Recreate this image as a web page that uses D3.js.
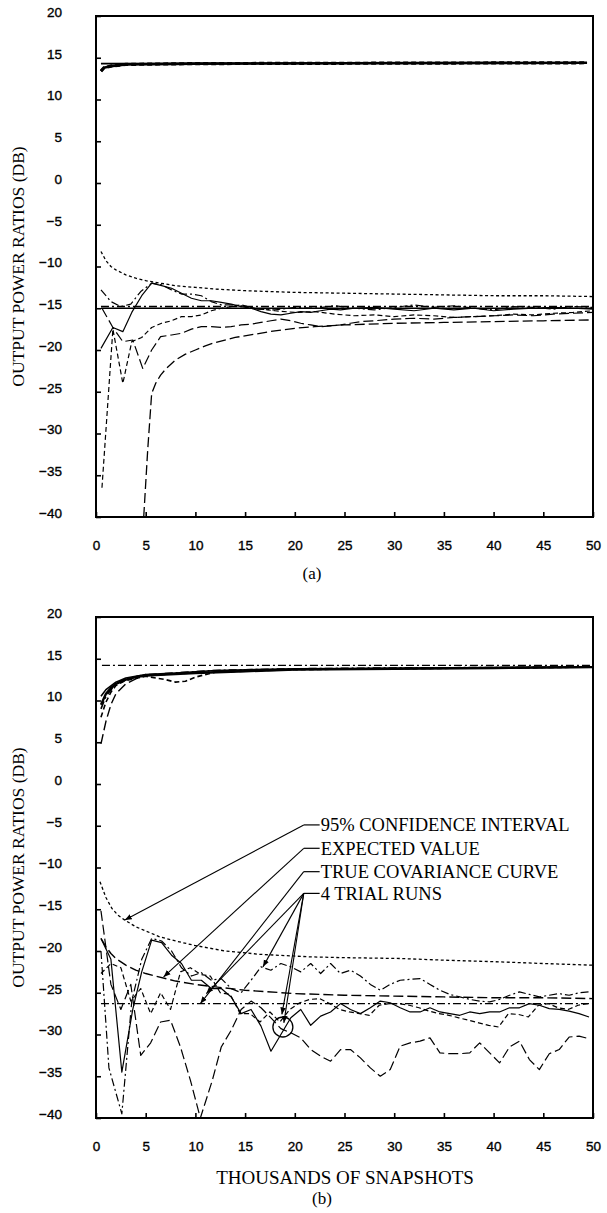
<!DOCTYPE html>
<html>
<head>
<meta charset="utf-8">
<script src="https://cdn.jsdelivr.net/npm/d3@7"></script>
<style>
  body { margin: 0; background: #fff; }
  svg { display: block; }
</style>
</head>
<body>
<svg id="chart" width="607" height="1213"></svg>
<script>
// ---------------------------------------------------------------------------------------
// Data.  x = thousands of snapshots, y = output power ratio (dB)

const xTicks = [0, 5, 10, 15, 20, 25, 30, 35, 40, 45, 50];
const yTicks = [-40, -35, -30, -25, -20, -15, -10, -5, 0, 5, 10, 15, 20];

// Panel (a)
const aTopTrue   = [[0.5, 14.3], [49.4, 14.4]];
const aTopRuns   = [[0.5, 13.4], [0.8, 13.8], [1.5, 14.0], [3, 14.2], [10, 14.3], [49.4, 14.4]];
const aUpperCI   = [[0.5, -8.2], [1, -9.3], [1.5, -10.0], [2, -10.4], [3, -11.0], [4, -11.4], [5, -11.7],
                    [6, -11.9], [8, -12.3], [10, -12.5], [12, -12.7], [15, -12.9], [20, -13.1],
                    [25, -13.2], [30, -13.3], [35, -13.4], [40, -13.5], [45, -13.5], [50, -13.6]];
const aLowerCI   = [[4.8, -40], [5.2, -32], [5.6, -25.2], [6, -24], [6.5, -23], [7, -22.3], [8, -21.2],
                    [9, -20.5], [10, -20], [11, -19.5], [12, -19.1], [14, -18.5], [16, -18.1],
                    [18, -17.7], [20, -17.4], [22, -17.2], [25, -17], [30, -16.8], [35, -16.7],
                    [40, -16.6], [45, -16.5], [50, -16.4]];
const aTrue      = [[0.5, -14.8], [50, -14.8]];
const aExpected  = [[0.5, -15.0], [50, -15.0]];
const aRun1 = [[0.5, -19.8], [1.7, -17.3], [2.7, -17.8], [3.6, -15.5], [4.6, -13.5], [5.6, -12], [6.6, -12.3],
               [7.6, -12.6], [8.6, -13.2], [9.6, -13.8], [10.6, -14.1], [11.6, -14.1], [12.6, -14.3],
               [13.6, -14.5], [14.6, -14.8], [15.6, -15], [16.6, -15.4], [17.6, -15.7], [18.6, -15.8],
               [19.6, -15.6], [20.6, -15.4], [21.6, -15.5], [22.6, -15.3], [23.6, -15.1], [24.6, -15.2],
               [26, -15], [28, -14.9], [30, -15.1], [32, -15.3], [34, -15], [36, -15.2], [38, -15],
               [40, -15.3], [42, -15.1], [44, -15], [46, -14.9], [48, -15], [50, -15.1]];
const aRun2 = [[0.5, -12.8], [1.5, -14.2], [2.5, -14.8], [3.5, -14.5], [4.5, -13], [5.6, -12], [6.6, -12.2],
               [7.6, -12.8], [8.6, -13.3], [9.6, -13.3], [10.6, -13.5], [11.6, -14.2], [12.6, -14.6],
               [13.6, -14.6], [14.6, -14.7], [16, -15.1], [18, -15.2], [20, -14.9], [22, -15], [24, -14.7],
               [26, -15], [28, -15.2], [30, -14.9], [32, -14.6], [34, -14.9], [36, -14.7], [38, -15],
               [40, -15.2], [42, -14.8], [44, -14.9], [46, -15.1], [48, -14.8], [50, -14.9]];
const aRun3 = [[0.6, -36.5], [1.7, -17.5], [2.7, -24], [3.6, -19], [4.6, -18.5], [5.6, -17.3], [6.6, -16.8],
               [7.6, -16.5], [8.6, -16], [9.6, -16], [10.6, -15.8], [11.6, -15.3], [12.6, -15], [13.6, -14.8],
               [14.6, -14.6], [16, -15], [18, -15.3], [20, -15.5], [22, -15.4], [24, -15.7], [26, -15.9],
               [28, -15.8], [30, -16], [32, -15.8], [34, -15.9], [36, -16.1], [38, -16], [40, -15.9],
               [42, -15.7], [44, -15.8], [46, -15.6], [48, -15.5], [50, -15.3]];
const aRun4 = [[0.6, -15], [1.7, -17.3], [2.7, -19], [3.7, -18.8], [4.7, -22.2], [5.6, -20], [6.5, -18.4],
               [7.6, -18.2], [8.6, -18], [9.6, -17.5], [10.6, -17.2], [11.6, -17.2], [12.6, -17.3],
               [13.6, -17.2], [14.6, -17], [15.6, -16.9], [16.6, -16.7], [17.6, -16.5], [18.6, -16.3],
               [19.6, -16.5], [20.6, -16.8], [21.6, -17], [22.6, -17.2], [23.6, -17.1], [24.6, -17],
               [25.6, -16.8], [26.6, -16.6], [28, -16.5], [30, -16.3], [32, -16.2], [34, -16.3], [36, -16.1],
               [38, -16], [40, -15.9], [42, -15.8], [44, -15.9], [46, -15.7], [48, -15.6], [50, -15.5]];

// Panel (b)
const bTopTrue     = [[0.6, 14.2], [50, 14.2]];
const bTopExpected = [[0.5, 9.5], [1, 10.8], [1.5, 11.5], [2, 12], [3, 12.5], [4, 12.8], [5, 13], [7, 13.1],
                      [10, 13.3], [15, 13.5], [20, 13.7], [30, 13.8], [40, 13.9], [50, 14]];
const bTopRun1 = [[0.5, 4.8], [1, 7.5], [1.5, 9.5], [2, 10.8], [3, 12], [4, 12.6], [5, 13], [7, 13.1],
                  [10, 13.3], [15, 13.5], [20, 13.7], [30, 13.8], [40, 13.9], [50, 14]];
const bTopRun2 = [[0.5, 8], [1, 9.8], [1.5, 11], [2, 11.8], [3, 12.4], [5, 12.9], [7, 12.5], [8, 12.2],
                  [9, 12.3], [10, 12.8], [12, 13.4], [15, 13.6], [20, 13.7], [30, 13.8], [50, 14]];
const bTopRun3 = [[0.5, 9], [1, 10.5], [2, 12], [3, 12.6], [5, 13.1], [8, 13.3], [12, 13.6], [20, 13.8],
                  [30, 13.9], [50, 14]];
const bTopRun4 = [[0.5, 10.5], [1, 11.3], [2, 12.2], [3, 12.7], [5, 13.1], [8, 13.3], [12, 13.6], [20, 13.8],
                  [50, 14]];
const bUpperCI  = [[0.4, -11.7], [1, -13.6], [1.6, -14.9], [2.2, -15.7], [2.9, -16.3], [4, -17.1], [4.8, -17.5],
                   [6.4, -18.3], [8, -18.8], [9.8, -19.3], [13, -20], [16.5, -20.4], [21.5, -20.7],
                   [25, -20.8], [30.6, -20.9], [35, -21.1], [40.6, -21.3], [45, -21.5], [50, -21.7]];
const bExpected = [[0.5, -18.5], [1, -19.5], [1.5, -20.3], [2, -20.9], [3, -21.7], [4, -22.3], [5, -22.7],
                   [6, -23], [8, -23.6], [10, -24], [12, -24.3], [15, -24.7], [20, -25.1], [25, -25.3],
                   [30, -25.4], [35, -25.5], [40, -25.6], [45, -25.6], [50, -25.7]];
const bTrue     = [[0.5, -26.3], [50, -26.3]];
const bRunSolid = [[0.5, -18.5], [1.5, -21], [2.6, -34.5], [3.7, -27], [4.6, -22.5], [5.6, -18.7], [6.6, -19],
                   [7.6, -20.5], [8.6, -21.5], [9.6, -23.5], [10.6, -23.5], [11.6, -24.5], [12.6, -24.5],
                   [13.6, -25.5], [14.6, -27.5], [15.6, -27], [16.6, -29], [17.6, -32], [18.6, -30],
                   [19.6, -28], [20.6, -27], [21.6, -28.9], [22.6, -27.8], [23.6, -27.3], [24.6, -26.3],
                   [25.6, -27], [26.6, -27.5], [27.6, -26.8], [28.6, -26], [29.6, -26.2], [30.6, -26.8],
                   [31.6, -27.3], [32.6, -27.3], [33.6, -26.8], [34.6, -27.3], [35.6, -27.5], [36.6, -27.7],
                   [37.6, -27.3], [38.6, -27.5], [39.6, -27.3], [40.6, -27.3], [41.6, -26.8], [42.6, -26.8],
                   [43.6, -26.3], [44.6, -26.5], [45.6, -26.9], [46.6, -27], [47.6, -27.2], [48.6, -27.5],
                   [49.6, -27.9]];
const bRunDashDot = [[0.5, -20], [1.3, -34], [2.6, -39.5], [3.6, -26], [4.6, -21], [5.6, -18.5], [6.6, -18.8],
                     [7.6, -20], [8.6, -22], [9.6, -23], [10.6, -22.6], [11.6, -23.5], [12.6, -23.3],
                     [13.6, -24.5], [14.6, -25], [15.6, -23.5], [16.6, -21.9], [17.6, -22.3], [18.6, -21.5],
                     [19.6, -21.9], [20.6, -22.5], [21.6, -21.5], [22.6, -22.7], [23.6, -21.5], [24.6, -22.7],
                     [25.6, -22.3], [26.6, -23], [27.6, -24], [28.6, -24.7], [29.6, -24], [30.6, -23.5],
                     [31.6, -23.4], [32.6, -23.3], [33.6, -24], [34.6, -24.7], [35.6, -25.2], [36.6, -25.5],
                     [37.6, -25.8], [38.6, -26], [39.6, -26.1], [40.6, -25.8], [41.6, -25.3], [42.6, -24.9],
                     [43.6, -25.2], [44.6, -25.5], [45.6, -25.3], [46.6, -25.1], [47.6, -25.3], [48.6, -25],
                     [49.6, -24.9]];
const bRunDashed = [[0.5, -22.7], [1.5, -21.5], [2.5, -22], [3.5, -26], [4.5, -24.5], [5.5, -27.5], [6.5, -25],
                    [7.5, -27], [8.5, -22.5], [9.5, -22], [10.5, -22.8], [11.5, -23], [12.5, -25],
                    [13.5, -25.2], [14.5, -27.5], [15.5, -27.5], [16.5, -28.5], [17.5, -27.3], [18.5, -28.5],
                    [19.5, -27], [20.5, -26.2], [21.5, -25.8], [22.5, -25.7], [23.5, -26.3], [24.5, -27],
                    [25.5, -27.3], [26.5, -27.5], [27.5, -27.7], [28.5, -26.5], [29.5, -26.3], [30.5, -26.3],
                    [31.5, -26.5], [32.5, -26.8], [33.5, -27.2], [34.5, -27.5], [35.5, -27.7], [36.5, -28],
                    [37.5, -28.3], [38.5, -28.6], [39.5, -28.9], [40.5, -29.1], [41.5, -27.5], [42.5, -27.6],
                    [43.5, -27.9], [44.5, -26.5], [45.5, -26.3], [46.5, -26.8], [47.5, -27], [48.5, -26.5],
                    [49.5, -26.3]];
const bRunLong = [[0.5, -15.2], [1.5, -24], [2.5, -27], [3.5, -24], [4.5, -32.5], [5.5, -31], [6.5, -28.5],
                  [7.5, -28.3], [8.5, -31.5], [9.5, -35.5], [10.5, -40], [11.7, -35.5], [12.6, -31.5],
                  [13.6, -29.5], [14.6, -27], [15.6, -26], [16.6, -26.8], [17.6, -28], [18.6, -29.3],
                  [19.6, -29.8], [20.6, -30.4], [21.6, -31.8], [22.6, -32.6], [23.6, -33.2], [24.6, -31.8],
                  [25.6, -31.8], [26.6, -32.8], [27.6, -34], [28.6, -35], [29.6, -34.2], [30.6, -31.4],
                  [31.6, -31], [32.6, -30.8], [33.6, -30.4], [34.6, -32.2], [35.6, -32.3], [36.6, -32.3],
                  [37.6, -32.2], [38.6, -31], [39.6, -32.2], [40.6, -33.4], [41.6, -31.5], [42.6, -30.8],
                  [43.6, -33], [44.6, -34.2], [45.6, -32.3], [46.6, -31.8], [47.6, -30.3], [48.6, -30.2],
                  [49.6, -30.5]];

// Legend of panel (b): label text, leader start, arrow targets (data units)
const bLabels  = ["95% CONFIDENCE INTERVAL", "EXPECTED VALUE", "TRUE COVARIANCE CURVE", "4 TRIAL RUNS"];
const bLabelY  = [-4.9, -7.7, -10.5, -13.1];
const bArrows  = [[[2.9, -16.3]], [[6.8, -23.1]], [[10.5, -26.3]],
                  [[11.1, -25.1], [16.8, -21.9], [18.7, -27.6], [18.9, -28.6]]];
const bCircle  = [18.8, -29.1];

// ---------------------------------------------------------------------------------------

const svg = d3.select("#chart");
const left = 96, right = 593;
const x = d3.scaleLinear().domain([0, 50]).range([left, right]);

const dash = {
  solid: null,
  dotted: "3,2.5",
  dashed: "5,3",
  long: "10,4",
  dashdot: "8,3,2,3"
};

/// Draw one panel: frame, axes, tick labels and y title
function drawPanel(top, bottom)
 {
  const y = d3.scaleLinear().domain([-40, 20]).range([bottom, top]);
  const g = svg.append("g");

  g.append("g")
    .attr("transform", `translate(${left},0)`)
    .call(d3.axisLeft(y).tickValues(yTicks).tickSizeInner(-5).tickSizeOuter(0).tickPadding(34))
    .call(a => a.select(".domain").remove())
    .call(a => a.selectAll("text").attr("dy", "0.02em"));

  g.append("g")
    .attr("transform", `translate(0,${bottom})`)
    .call(d3.axisBottom(x).tickValues(xTicks).tickSizeInner(-5).tickSizeOuter(0).tickPadding(23))
    .call(a => a.select(".domain").remove());

  g.selectAll(".tick line").attr("stroke", "#000").attr("stroke-width", 1.6);
  g.selectAll(".tick text")
    .attr("font-family", "Liberation Sans, Arial, sans-serif")
    .attr("font-size", 13.5)
    .attr("fill", "#000")
    .attr("stroke", "#000")
    .attr("stroke-width", 0.35);

  g.append("rect")
    .attr("x", left).attr("y", top)
    .attr("width", right - left).attr("height", bottom - top)
    .attr("fill", "none").attr("stroke", "#000").attr("stroke-width", 2);

  g.append("text")
    .attr("transform", `translate(18,${(top + bottom) / 2}) rotate(-90)`)
    .attr("text-anchor", "middle")
    .attr("dy", "0.35em")
    .attr("font-family", "Liberation Serif, Times New Roman, serif")
    .attr("font-size", 17.5)
    .text("OUTPUT POWER RATIOS (DB)");

  return { g, y };
 }

/// Add one series line to a panel
function drawSeries(panel, data, style, width)
 {
  const line = d3.line().x(d => x(d[0])).y(d => panel.y(d[1]));
  panel.g.append("path")
    .datum(data)
    .attr("fill", "none")
    .attr("stroke", "#000")
    .attr("stroke-width", width || 1.3)
    .attr("stroke-linejoin", "round")
    .attr("stroke-dasharray", dash[style])
    .attr("d", line);
 }

// ---------------- panel (a)
const pa = drawPanel(16, 517);
drawSeries(pa, aTopTrue, "solid", 1.6);
drawSeries(pa, aTopRuns, "solid", 2.6);
drawSeries(pa, aTopRuns, "dashed", 3.2);
drawSeries(pa, aUpperCI, "dotted", 1.3);
drawSeries(pa, aLowerCI, "long", 1.3);
drawSeries(pa, aExpected, "solid", 1.6);
drawSeries(pa, aTrue, "dashdot", 1.5);
drawSeries(pa, aRun1, "solid", 1.2);
drawSeries(pa, aRun2, "dashdot", 1.2);
drawSeries(pa, aRun3, "dashed", 1.2);
drawSeries(pa, aRun4, "long", 1.2);

svg.append("text")
  .attr("x", 312).attr("y", 573).attr("dy", "0.35em")
  .attr("text-anchor", "middle")
  .attr("font-family", "Liberation Serif, Times New Roman, serif")
  .attr("font-size", 17)
  .text("(a)");

// ---------------- panel (b)
const pb = drawPanel(617, 1118);
drawSeries(pb, bTopTrue, "dashdot", 1.3);
drawSeries(pb, bTopRun1, "long", 1.4);
drawSeries(pb, bTopRun2, "dashed", 1.6);
drawSeries(pb, bTopRun3, "dashdot", 1.6);
drawSeries(pb, bTopRun4, "solid", 1.6);
drawSeries(pb, bTopExpected, "solid", 2.4);
drawSeries(pb, bUpperCI, "dotted", 1.3);
drawSeries(pb, bExpected, "long", 1.4);
drawSeries(pb, bTrue, "dashdot", 1.3);
drawSeries(pb, bRunSolid, "solid", 1.2);
drawSeries(pb, bRunDashDot, "dashdot", 1.2);
drawSeries(pb, bRunDashed, "dashed", 1.2);
drawSeries(pb, bRunLong, "long", 1.2);

// legend leaders and arrows
const defs = svg.append("defs");
defs.append("marker")
  .attr("id", "arrow")
  .attr("viewBox", "0 0 10 10")
  .attr("refX", 10).attr("refY", 5)
  .attr("markerWidth", 7).attr("markerHeight", 7)
  .attr("markerUnits", "userSpaceOnUse")
  .attr("orient", "auto")
  .append("path")
  .attr("d", "M0,1 L10,5 L0,9 Z")
  .attr("fill", "#000");

const leadX0 = 20.9, leadX1 = 22.5;
bLabels.forEach((label, i) => {
  const ly = pb.y(bLabelY[i]);
  pb.g.append("line")
    .attr("x1", x(leadX0)).attr("x2", x(leadX1))
    .attr("y1", ly).attr("y2", ly)
    .attr("stroke", "#000").attr("stroke-width", 1.2);
  bArrows[i].forEach(t => {
    pb.g.append("line")
      .attr("x1", x(leadX0)).attr("y1", ly)
      .attr("x2", x(t[0])).attr("y2", pb.y(t[1]))
      .attr("stroke", "#000").attr("stroke-width", 1.1)
      .attr("marker-end", "url(#arrow)");
  });
  pb.g.append("text")
    .attr("x", x(leadX1) + 1).attr("y", ly)
    .attr("dy", "0.34em")
    .attr("font-family", "Liberation Serif, Times New Roman, serif")
    .attr("font-size", 18.5)
    .text(label);
});

pb.g.append("circle")
  .attr("cx", x(bCircle[0])).attr("cy", pb.y(bCircle[1]))
  .attr("r", 10)
  .attr("fill", "none").attr("stroke", "#000").attr("stroke-width", 1.3);

svg.append("text")
  .attr("x", 345).attr("y", 1177).attr("dy", "0.35em")
  .attr("text-anchor", "middle")
  .attr("font-family", "Liberation Serif, Times New Roman, serif")
  .attr("font-size", 19)
  .text("THOUSANDS OF SNAPSHOTS");

svg.append("text")
  .attr("x", 322).attr("y", 1198).attr("dy", "0.35em")
  .attr("text-anchor", "middle")
  .attr("font-family", "Liberation Serif, Times New Roman, serif")
  .attr("font-size", 17)
  .text("(b)");
</script>
</body>
</html>
